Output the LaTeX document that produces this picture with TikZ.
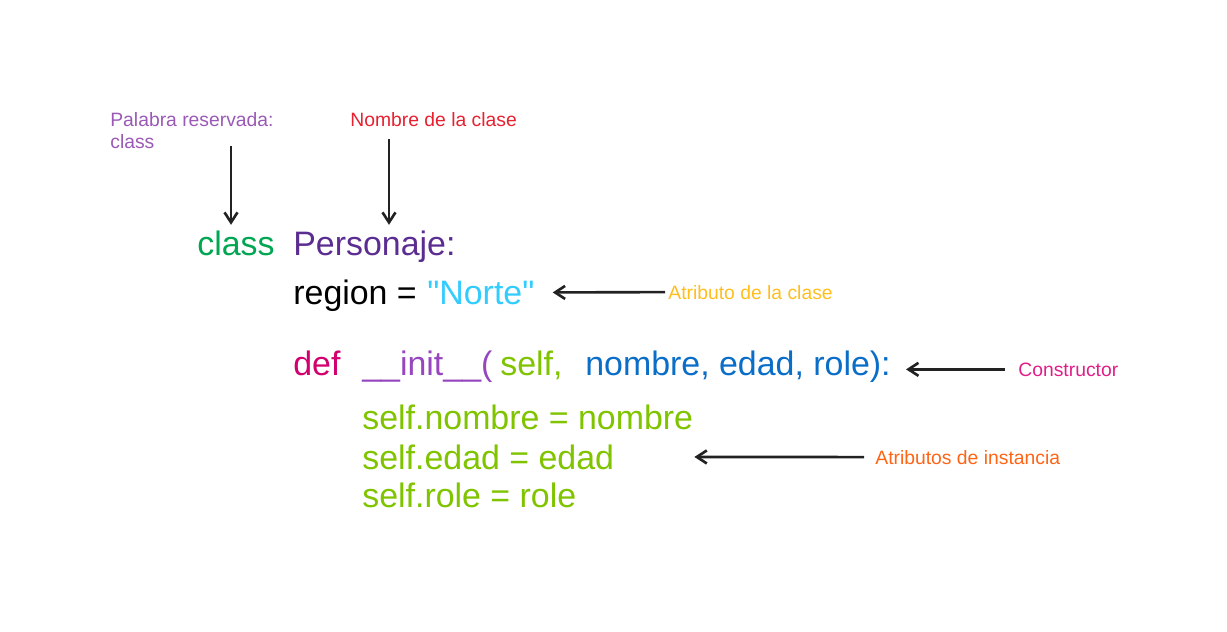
\documentclass[tikz,border=0pt]{standalone}
\usepackage{fontspec}
\setmainfont{Liberation Sans}
\newfontfamily\codefont{Liberation Sans}
\usetikzlibrary{arrows.meta}

\definecolor{kwgreen}{RGB}{0,166,81}
\definecolor{clspurple}{RGB}{92,45,145}
\definecolor{strcyan}{RGB}{51,204,255}
\definecolor{defpink}{RGB}{210,0,110}
\definecolor{initpurple}{RGB}{150,70,190}
\definecolor{selfgreen}{RGB}{128,196,0}
\definecolor{argblue}{RGB}{10,110,200}
\definecolor{respurple}{RGB}{155,89,182}
\definecolor{namered}{RGB}{232,32,48}
\definecolor{attryellow}{RGB}{255,190,30}
\definecolor{ctorpink}{RGB}{225,30,135}
\definecolor{instorange}{RGB}{255,100,20}
\definecolor{arrowgray}{RGB}{34,34,34}

\begin{document}
\begin{tikzpicture}[
    x=0.02cm, y=-0.02cm,
    code/.style={anchor=base west, inner sep=0pt, font=\codefont\fontsize{19.3}{23}\selectfont},
    note/.style={inner sep=0pt, align=left, font=\fontsize{11}{12.5}\selectfont},
    pointer/.style={draw=arrowgray, line width=1.5pt, -{Straight Barb[length=2mm, width=2.6mm]}}
]
\useasboundingbox (0,0) rectangle (1227,632);

% codigo
\node[code, text=kwgreen]    (classkw) at (197,255) {class};
\node[code, text=clspurple]  (clsname) at (293,255) {Personaje:};
\node[code]                  (region)  at (293,304) {region =};
\node[code, text=strcyan]    (norte)   at (427,304) {"Norte"};
\node[code, text=defpink]    (defkw)   at (293,375) {def};
\node[code, text=initpurple] (initfn)  at (362,375) {\_\_init\_\_(};
\node[code, text=selfgreen]  (selfarg) at (500,375) {self,};
\node[code, text=argblue]    (params)  at (585,375) {nombre, edad, role):};
\node[code, text=selfgreen]  (nombre)  at (362,429) {self.nombre = nombre};
\node[code, text=selfgreen]  (edad)    at (362,469) {self.edad = edad};
\node[code, text=selfgreen]  (role)    at (362,507) {self.role = role};

% etiquetas
\node[note, anchor=north west, text=respurple]  (reslbl)  at (110,112) {Palabra reservada:\\class};
\node[note, anchor=base west, text=namered]     (namelbl) at (350,126) {Nombre de la clase};
\node[note, anchor=base west, text=attryellow]  (attrlbl) at (668,299) {Atributo de la clase};
\node[note, anchor=base west, text=ctorpink]    (ctorlbl) at (1018,376) {Constructor};
\node[note, anchor=base west, text=instorange]  (instlbl) at (875,464) {Atributos de instancia};

% flechas
\coordinate (resfoot)  at (231,146);
\coordinate (namefoot) at (389,139);
\draw[pointer, shorten >=3pt] (resfoot) -- (resfoot |- classkw.north);
\draw[pointer, shorten >=3pt] (namefoot) -- (namefoot |- clsname.north);
\draw[pointer, shorten <=0.06cm, shorten >=0.36cm] (attrlbl.west) -- (norte.east);
\draw[pointer, shorten <=0.26cm, shorten >=0.3cm] (ctorlbl.west) -- (ctorlbl.west -| params.east);
\draw[pointer, shorten <=0.22cm, shorten >=1.6cm] (instlbl.west) -- (edad.east);

\end{tikzpicture}
\end{document}
